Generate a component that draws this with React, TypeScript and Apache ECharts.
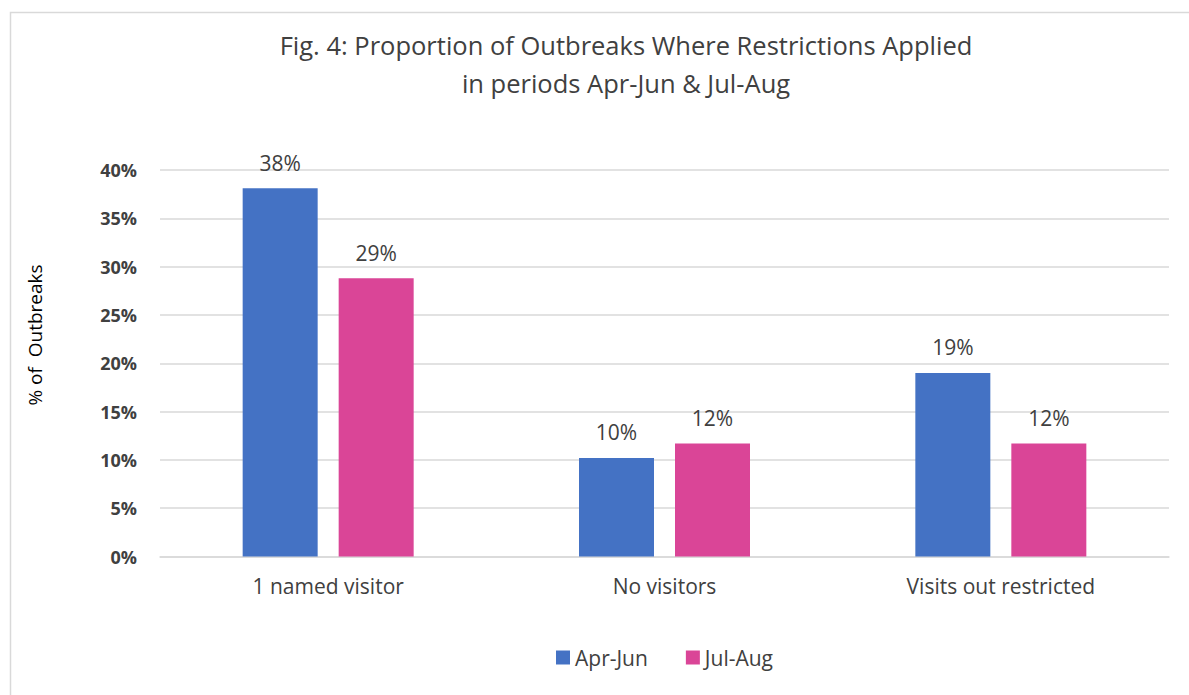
import React, { useEffect, useRef } from "react";
import * as echarts from "echarts";

const categories = ["1 named visitor", "No visitors", "Visits out restricted"];
const aprJun = [38.1, 10.2, 19.0];
const julAug = [28.8, 11.7, 11.7];
const seriesNames = ["Apr-Jun", "Jul-Aug"];
const titleLines = [
  "Fig. 4: Proportion of Outbreaks Where Restrictions Applied",
  "in periods Apr-Jun & Jul-Aug",
];
const yAxisName = "% of  Outbreaks";

const FONT = "'Open Sans', 'Noto Sans', sans-serif";
const TEXT = "#404040";

export default function App() {
  const ref = useRef<HTMLDivElement>(null);
  useEffect(() => {
    if (!ref.current) return;
    const chart = echarts.init(ref.current, null, { renderer: "svg" });
    const labelCfg = {
      show: true,
      position: "top",
      distance: 15,
      color: TEXT,
      fontSize: 21,
      fontFamily: FONT,
      formatter: (p: any) => Math.round(p.value) + "%",
    };
    chart.setOption({
      animation: false,
      backgroundColor: "#ffffff",
      textStyle: { fontFamily: FONT },
      title: {
        text: titleLines.join("\n"),
        left: 621,
        top: 21,
        textAlign: "center",
        textStyle: {
          fontFamily: FONT,
          fontSize: 25.5,
          fontWeight: "normal",
          color: TEXT,
          lineHeight: 38,
        },
      },
      graphic: [
        {
          type: "rect",
          shape: { x: 10.5, y: 12.5, width: 1200, height: 700 },
          style: { fill: "none", stroke: "#d9d9d9", lineWidth: 1.5 },
          silent: true,
          z: -1,
        },
        {
          type: "text",
          x: 35,
          y: 335,
          rotation: Math.PI / 2,
          style: {
            text: yAxisName,
            fill: "#000000",
            fontSize: 19,
            fontFamily: FONT,
            align: "center",
            verticalAlign: "middle",
          },
          silent: true,
        },
      ],
      legend: {
        data: seriesNames,
        top: 642,
        left: 551,
        itemWidth: 14,
        itemHeight: 14,
        itemGap: 38,
        icon: "rect",
        textStyle: { color: TEXT, fontSize: 21, fontFamily: FONT },
      },
      grid: { left: 160, right: 20, top: 170, bottom: 138.5 },
      xAxis: {
        type: "category",
        data: categories,
        axisLine: { show: true, lineStyle: { color: "#d9d9d9", width: 1.5 } },
        axisTick: { show: false },
        axisLabel: {
          color: TEXT,
          fontSize: 21,
          fontFamily: FONT,
          margin: 19,
        },
      },
      yAxis: {
        type: "value",
        min: 0,
        max: 40,
        interval: 5,
        axisLine: { show: false },
        axisTick: { show: false },
        axisLabel: {
          formatter: "{value}%",
          color: TEXT,
          fontSize: 18,
          fontWeight: "bold",
          fontFamily: FONT,
          margin: 23,
        },
        splitLine: { lineStyle: { color: "#d9d9d9", width: 1.5 } },
      },
      series: [
        {
          name: seriesNames[0],
          type: "bar",
          data: aprJun,
          barWidth: 75,
          barGap: "28%",
          itemStyle: { color: "#4472C4" },
          label: labelCfg,
        },
        {
          name: seriesNames[1],
          type: "bar",
          data: julAug,
          barWidth: 75,
          itemStyle: { color: "#DA4597" },
          label: labelCfg,
        },
      ],
    });
    return () => chart.dispose();
  }, []);
  return (
    <div
      ref={ref}
      style={{ position: "fixed", left: 0, top: 0, width: 1189, height: 695 }}
    />
  );
}
